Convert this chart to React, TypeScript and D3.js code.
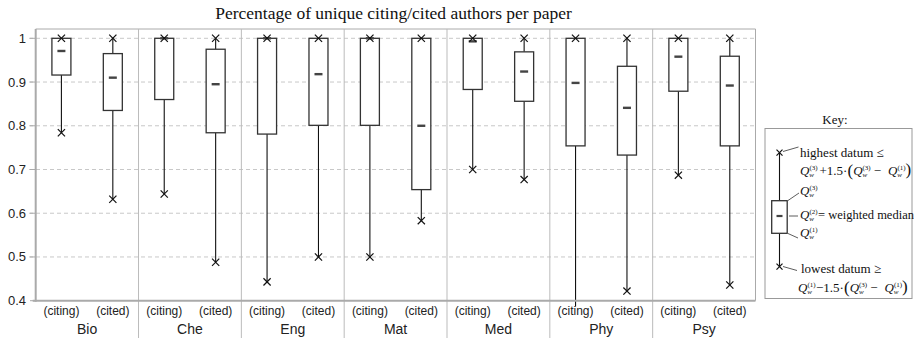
import React from 'react';
import * as d3 from 'd3';

const categories = ['Bio', 'Che', 'Eng', 'Mat', 'Med', 'Phy', 'Psy'];
const roles = ['(citing)', '(cited)'];
const yTicks = [0.4, 0.5, 0.6, 0.7, 0.8, 0.9, 1];
const yTickLabels = ['0.4', '0.5', '0.6', '0.7', '0.8', '0.9', '1'];

const citingMax = [1, 1, 1, 1, 1, 1, 1];
const citingQ3 = [1, 1, 1, 1, 1, 1, 1];
const citingMed = [0.971, 1, 1, 1, 0.993, 0.898, 0.958];
const citingQ1 = [0.916, 0.86, 0.781, 0.801, 0.883, 0.754, 0.879];
const citingMin = [0.784, 0.644, 0.443, 0.5, 0.7, 0.387, 0.687];

const citedMax = [1, 1, 1, 1, 1, 1, 1];
const citedQ3 = [0.965, 0.975, 1, 1, 0.969, 0.936, 0.959];
const citedMed = [0.91, 0.895, 0.918, 0.8, 0.924, 0.841, 0.892];
const citedQ1 = [0.835, 0.784, 0.801, 0.654, 0.856, 0.733, 0.754];
const citedMin = [0.632, 0.488, 0.5, 0.583, 0.677, 0.422, 0.436];

const SANS = '"Liberation Sans", Arial, Helvetica, sans-serif';
const SERIF = '"Liberation Serif", "Times New Roman", serif';

const W = 914, H = 340;
const left = 35.7, right = 755.5, top = 29, bottom = 300.7;

function Cross({ x, y, s = 3.6 }: { x: number; y: number; s?: number }) {
  return (
    <g stroke="#111" strokeWidth={1.2}>
      <line x1={x - s} y1={y - s} x2={x + s} y2={y + s} />
      <line x1={x - s} y1={y + s} x2={x + s} y2={y - s} />
    </g>
  );
}

// Q with stacked superscript / subscript w, as tspans; followed by `after` text
function qSpans(sup: string, after: string, afterDx: number, key: string, afterSize = 13) {
  return [
    <tspan key={key + 'q'} fontStyle="italic">Q</tspan>,
    <tspan key={key + 's'} fontSize={7} dy={-5}>{sup}</tspan>,
    <tspan key={key + 'w'} fontSize={7} fontStyle="italic" dx={-8.2} dy={7}>w</tspan>,
    <tspan key={key + 'a'} dx={3.5 + afterDx} dy={-2} fontSize={afterSize}>{after}</tspan>,
  ];
}

export default function App() {
  const y = d3.scaleLinear().domain([0.4, 1]).range([bottom, 38.3]);
  const xg = d3.scaleBand().domain(categories).range([left, right]);
  const xr = d3.scaleBand().domain(roles).range([0, xg.bandwidth()]);
  const bw = 19;
  const series = [
    { role: roles[0], max: citingMax, q3: citingQ3, med: citingMed, q1: citingQ1, min: citingMin },
    { role: roles[1], max: citedMax, q3: citedQ3, med: citedMed, q1: citedQ1, min: citedMin },
  ];

  return (
    <svg width={W} height={H} style={{ position: 'absolute', left: 0, top: 0, background: '#fff' }}>
      <rect x={0} y={0} width={W} height={H} fill="#fff" />
      <text x={(left + right) / 2 - 2} y={18.5} textAnchor="middle" fontFamily={SERIF} fontSize={17.5} fill="#111">
        Percentage of unique citing/cited authors per paper
      </text>

      {/* grid */}
      {yTicks.map((t, i) => (
        <g key={i}>
          {t > 0.4 && (
            <line x1={29} x2={right} y1={y(t)} y2={y(t)} stroke="#c8c8c8" strokeDasharray="4,3" strokeWidth={1} />
          )}
          <line x1={30} x2={left} y1={y(t)} y2={y(t)} stroke="#aaa" strokeWidth={1} />
          <text x={26} y={y(t) + 4.5} textAnchor="end" fontFamily={SANS} fontSize={13} fill="#222">
            {yTickLabels[i]}
          </text>
        </g>
      ))}

      {/* frame */}
      <line x1={left} x2={right} y1={top} y2={top} stroke="#aaa" strokeWidth={1} />
      <line x1={right} x2={right} y1={top} y2={bottom} stroke="#aaa" strokeWidth={1} />

      {/* separators */}
      {categories.slice(1).map((c) => (
        <line key={c} x1={xg(c)!} x2={xg(c)!} y1={top} y2={338} stroke="#bbb" strokeWidth={1} />
      ))}

      {/* boxes */}
      {categories.map((c, i) => (
        <g key={c}>
          {series.map((s) => {
            const cx = xg(c)! + xr(s.role)! + xr.bandwidth() / 2;
            return (
              <g key={s.role}>
                <line x1={cx} x2={cx} y1={y(s.max[i])} y2={y(s.q3[i])} stroke="#111" strokeWidth={1.1} />
                <line x1={cx} x2={cx} y1={y(s.q1[i])} y2={y(s.min[i])} stroke="#111" strokeWidth={1.1} />
                <rect
                  x={cx - bw / 2}
                  y={y(s.q3[i])}
                  width={bw}
                  height={y(s.q1[i]) - y(s.q3[i])}
                  fill="#fff"
                  stroke="#333"
                  strokeWidth={1.3}
                />
                <line x1={cx - 4} x2={cx + 4} y1={y(s.med[i])} y2={y(s.med[i])} stroke="#444" strokeWidth={2.4} />
                <Cross x={cx} y={y(s.max[i])} />
                {s.min[i] >= 0.4 && <Cross x={cx} y={y(s.min[i])} />}
              </g>
            );
          })}
          {series.map((s) => {
            const cx = xg(c)! + xr(s.role)! + xr.bandwidth() / 2;
            return (
              <text key={s.role} x={cx} y={315} textAnchor="middle" fontFamily={SANS} fontSize={12} fill="#222">
                {s.role}
              </text>
            );
          })}
          <text x={xg(c)! + xg.bandwidth() / 2} y={334} textAnchor="middle" fontFamily={SANS} fontSize={14} fill="#222">
            {c}
          </text>
        </g>
      ))}

      {/* axes */}
      <line x1={left} x2={left} y1={top} y2={bottom + 1} stroke="#aaa" strokeWidth={2} />
      <line x1={left - 3} x2={right} y1={bottom} y2={bottom} stroke="#aaa" strokeWidth={2} />

      {/* key */}
      <text x={835} y={123.5} textAnchor="middle" fontFamily={SERIF} fontSize={13} fill="#111">Key:</text>
      <rect x={765} y={128.5} width={147} height={170} fill="#fff" stroke="#999" strokeWidth={1} />
      <line x1={779.5} x2={779.5} y1={152.7} y2={266.7} stroke="#111" strokeWidth={1.1} />
      <rect x={771.7} y={200.7} width={15.5} height={32.6} fill="#fff" stroke="#333" strokeWidth={1.3} />
      <line x1={776.5} x2={782.5} y1={216} y2={216} stroke="#444" strokeWidth={2.2} />
      <Cross x={779.5} y={152.7} s={3} />
      <Cross x={779.5} y={266.7} s={3} />
      <g stroke="#333" strokeWidth={0.8}>
        <line x1={783} y1={151.5} x2={798.5} y2={147} />
        <line x1={788} y1={200.5} x2={799} y2={193} />
        <line x1={789} y1={216} x2={798} y2={216} />
        <line x1={788} y1={233.5} x2={798} y2={238} />
        <line x1={783} y1={266.5} x2={797} y2={270.5} />
      </g>
      <g fontFamily={SERIF} fontSize={13} fill="#111">
        <text x={800} y={156.5}>highest datum ≤</text>
        <text x={800} y={175}>
          {qSpans('(3)', '+1.5·', 2, 'a')}
          {qSpans('(3)', '−', 3, 'b').map((e, k) => k === 0 ? [<tspan key="pa" fontSize={17} dy={0.5}>(</tspan>, React.cloneElement(e, { dy: -0.5 })] : e)}
          {qSpans('(1)', ')', 0, 'c', 17).map((e, k) => k === 0 ? React.cloneElement(e, { dx: 7 }) : e)}
        </text>
        <text x={800} y={195}>{qSpans('(3)', '', 0, 'd')}</text>
        <text x={800} y={219}>{qSpans('(2)', '= weighted median', 0.5, 'e', 12.5)}</text>
        <text x={800} y={237}>{qSpans('(1)', '', 0, 'f')}</text>
        <text x={801} y={273}>lowest datum ≥</text>
        <text x={798} y={292}>
          {qSpans('(1)', '−1.5·', 0.5, 'g')}
          {qSpans('(3)', '−', 3, 'h').map((e, k) => k === 0 ? [<tspan key="pb" fontSize={17} dy={0.5}>(</tspan>, React.cloneElement(e, { dy: -0.5 })] : e)}
          {qSpans('(1)', ')', 0, 'i', 17).map((e, k) => k === 0 ? React.cloneElement(e, { dx: 7 }) : e)}
        </text>
      </g>
    </svg>
  );
}
